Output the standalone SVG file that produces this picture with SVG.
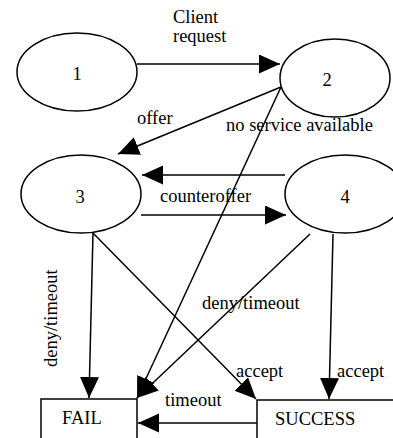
<svg xmlns="http://www.w3.org/2000/svg" width="393" height="438" viewBox="0 0 393 438">
<style>
.n{fill:#fff;stroke:#000;stroke-width:1.5}
.t{font-family:"Liberation Serif","Times New Roman",serif;font-size:18.5px;fill:#000}
.c{text-anchor:middle}
.e line{stroke:#000;stroke-width:1.5;marker-end:url(#ah)}
</style>
<defs>
<marker id="ah" markerUnits="userSpaceOnUse" markerWidth="22" markerHeight="20" refX="21" refY="9.5" orient="auto" viewBox="0 0 22 20">
<path d="M0,0 L21,9.5 L0,19 z" fill="#000"/>
</marker>
</defs>
<rect width="393" height="438" fill="#fff"/>
<g id="n1"><ellipse class="n" cx="77" cy="72" rx="60" ry="39"/><text class="t c" x="77" y="80">1</text></g>
<g id="n2"><ellipse class="n" cx="335" cy="78" rx="55" ry="39"/><text class="t c" x="327" y="86">2</text></g>
<g id="n3"><ellipse class="n" cx="81" cy="194" rx="60" ry="39"/><text class="t c" x="80" y="203">3</text></g>
<g id="n4"><ellipse class="n" cx="345" cy="194" rx="60" ry="39"/><text class="t c" x="345" y="203">4</text></g>
<g id="fail"><rect class="n" x="41" y="399" width="96" height="50"/><text class="t" x="62" y="424">FAIL</text></g>
<g id="success"><rect class="n" x="257" y="400" width="150" height="50"/><text class="t" x="275" y="425">SUCCESS</text></g>
<g id="edges" class="e">
<line x1="137" y1="64" x2="280" y2="64"/>
<line x1="281" y1="87" x2="118" y2="154"/>
<line x1="281" y1="87" x2="137" y2="398"/>
<line x1="285" y1="175" x2="142" y2="175"/>
<line x1="141" y1="215" x2="286" y2="215"/>
<line x1="93" y1="233" x2="89" y2="398"/>
<line x1="93" y1="233" x2="256" y2="399"/>
<line x1="310" y1="234" x2="137" y2="398"/>
<line x1="333" y1="234" x2="329" y2="399"/>
<line x1="257" y1="423" x2="138" y2="423"/>
</g>
<g id="labels">
<text class="t" x="173" y="23">Client</text>
<text class="t" x="173" y="42">request</text>
<text class="t" x="137" y="124">offer</text>
<text class="t" x="226" y="131">no service available</text>
<text class="t" x="160" y="202">counteroffer</text>
<text class="t" transform="translate(57,367) rotate(-90)">deny/timeout</text>
<text class="t" x="202" y="309">deny/timeout</text>
<text class="t" x="236" y="377">accept</text>
<text class="t" x="337" y="377">accept</text>
<text class="t" x="165" y="406">timeout</text>
</g>
</svg>
